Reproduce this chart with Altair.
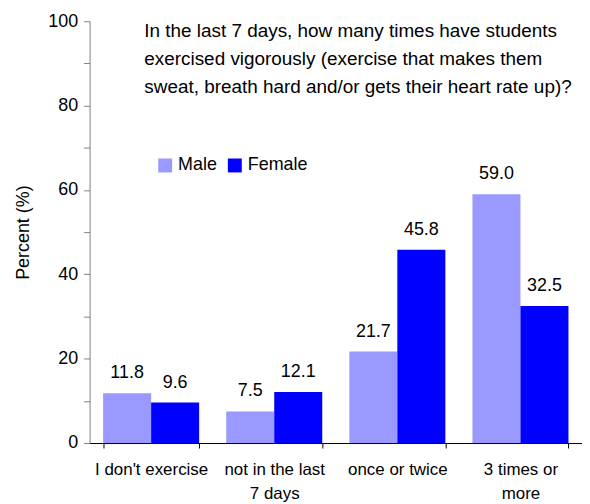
import altair as alt
import pandas as pd

categories = ["I don't exercise", "not in the last 7 days", "once or twice", "3 times or more"]
male = [11.8, 7.5, 21.7, 59.0]
female = [9.6, 12.1, 45.8, 32.5]
series = ["Male", "Female"]
colors = ["#9999FF", "#0000FF"]
title_lines = [
    "In the last 7 days, how many times have students",
    "exercised vigorously (exercise that makes them",
    "sweat, breath hard and/or gets their heart rate up)?",
]

rows = []
for c, m, f in zip(categories, male, female):
    rows.append({"category": c, "sex": "Male", "value": m})
    rows.append({"category": c, "sex": "Female", "value": f})
df = pd.DataFrame(rows)

FONT = "Liberation Sans"

label_expr = (
    "datum.label == 'not in the last 7 days' ? ['not in the last', '7 days'] : "
    "datum.label == '3 times or more' ? ['3 times or', 'more'] : datum.label"
)

x_enc = alt.X(
    "category:N",
    sort=categories,
    scale=alt.Scale(paddingInner=0.22, paddingOuter=0.11),
    axis=alt.Axis(
        title=None,
        labelAngle=0,
        labelExpr=label_expr,
        labelFont=FONT,
        labelFontSize=17,
        labelColor="black",
        labelPadding=14,
        labelLineHeight=24,
        tickBand="extent",
        tickSize=5,
        tickColor="black",
        domainColor="black",
        labelBaseline="top",
    ),
)

y_enc = alt.Y(
    "value:Q",
    scale=alt.Scale(domain=[0, 100]),
    axis=alt.Axis(
        title="Percent (%)",
        titleFont=FONT,
        titleFontSize=18,
        titleFontWeight="normal",
        titleColor="black",
        titlePadding=15,
        values=list(range(0, 101, 10)),
        labelExpr="datum.value % 20 == 0 ? datum.label : ''",
        labelFont=FONT,
        labelFontSize=18,
        labelColor="black",
        labelPadding=6,
        tickSize=6,
        tickColor="#808080",
        domainColor="#808080",
        grid=False,
    ),
)

color_enc = alt.Color(
    "sex:N",
    sort=series,
    scale=alt.Scale(domain=series, range=colors),
    legend=alt.Legend(
        title=None,
        orient="none",
        legendX=67,
        legendY=136,
        direction="horizontal",
        symbolType="square",
        symbolSize=196,
        symbolStrokeWidth=0,
        labelFont=FONT,
        labelFontSize=18,
        labelColor="black",
        columnPadding=8,
        labelOffset=4,
        padding=0,
    ),
)

base = alt.Chart(df).encode(
    x=x_enc,
    xOffset=alt.XOffset("sex:N", sort=series, scale=alt.Scale(paddingInner=0, paddingOuter=0)),
)

bars = base.mark_bar(opacity=1).encode(y=y_enc, color=color_enc)

labels = base.mark_text(
    font=FONT, fontSize=18, color="black", baseline="alphabetic", dy=-15
).encode(y="value:Q", text=alt.Text("value:Q", format=".1f"))

title_df = pd.DataFrame({"t": [title_lines]})
title = alt.Chart(title_df).mark_text(
    font=FONT, fontSize=19, color="black", align="left", baseline="alphabetic", lineHeight=28
).encode(x=alt.value(55), y=alt.value(16), text="t")

chart = (
    alt.layer(bars, labels, title)
    .properties(
        width=495,
        height=424,
        autosize=alt.AutoSizeParams(type="none"),
        padding={"left": 82, "top": 12, "right": 0, "bottom": 60},
    )
    .configure_view(stroke=None)
)

chart.save("out.html", embed_options={"renderer": "svg", "actions": False})
